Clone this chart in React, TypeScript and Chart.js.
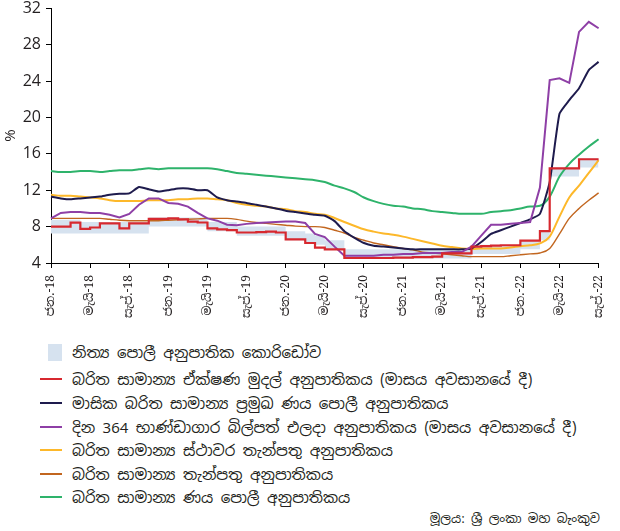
import React, { useEffect, useRef } from 'react';
import { Chart, registerables } from 'chart.js';

Chart.register(...registerables);

const months = [
  '2018-01', '2018-02', '2018-03', '2018-04', '2018-05', '2018-06', '2018-07', '2018-08', '2018-09', '2018-10', '2018-11', '2018-12',
  '2019-01', '2019-02', '2019-03', '2019-04', '2019-05', '2019-06', '2019-07', '2019-08', '2019-09', '2019-10', '2019-11', '2019-12',
  '2020-01', '2020-02', '2020-03', '2020-04', '2020-05', '2020-06', '2020-07', '2020-08', '2020-09', '2020-10', '2020-11', '2020-12',
  '2021-01', '2021-02', '2021-03', '2021-04', '2021-05', '2021-06', '2021-07', '2021-08', '2021-09', '2021-10', '2021-11', '2021-12',
  '2022-01', '2022-02', '2022-03', '2022-04', '2022-05', '2022-06', '2022-07', '2022-08', '2022-09',
];

const tickLabels = [
  'ජන.-18', 'මැයි-18', 'සැප්.-18',
  'ජන.-19', 'මැයි-19', 'සැප්.-19',
  'ජන.-20', 'මැයි-20', 'සැප්.-20',
  'ජන.-21', 'මැයි-21', 'සැප්.-21',
  'ජන.-22', 'මැයි-22', 'සැප්.-22',
];

// Standing rate corridor (lower / upper bound)
const corridorLow = [
  7.25, 7.25, 7.25, 7.25, 7.25, 7.25, 7.25, 7.25, 7.25, 7.25, 8.0, 8.0,
  8.0, 8.0, 8.0, 8.0, 7.5, 7.5, 7.5, 7.0, 7.0, 7.0, 7.0, 7.0,
  6.5, 6.5, 6.25, 6.0, 5.5, 5.5, 4.5, 4.5, 4.5, 4.5, 4.5, 4.5,
  4.5, 4.5, 4.5, 4.5, 4.5, 4.5, 4.5, 5.0, 5.0, 5.0, 5.0, 5.0,
  5.5, 5.5, 6.5, 13.5, 13.5, 13.5, 14.5, 14.5, 14.5,
];
const corridorHigh = [
  8.75, 8.75, 8.75, 8.5, 8.5, 8.5, 8.5, 8.5, 8.5, 8.5, 9.0, 9.0,
  9.0, 9.0, 9.0, 9.0, 8.5, 8.5, 8.5, 8.0, 8.0, 8.0, 8.0, 8.0,
  7.5, 7.5, 7.25, 7.0, 6.5, 6.5, 5.5, 5.5, 5.5, 5.5, 5.5, 5.5,
  5.5, 5.5, 5.5, 5.5, 5.5, 5.5, 5.5, 6.0, 6.0, 6.0, 6.0, 6.0,
  6.5, 6.5, 7.5, 14.5, 14.5, 14.5, 15.5, 15.5, 15.5,
];

const callMoneyRate = [
  8.0, 8.0, 8.43, 7.75, 7.9, 8.36, 8.36, 7.8, 8.36, 8.36, 8.85, 8.85,
  8.9, 8.8, 8.55, 8.45, 7.8, 7.7, 7.62, 7.35, 7.35, 7.4, 7.45, 7.35,
  6.6, 6.6, 6.2, 5.7, 5.5, 5.5, 4.55, 4.55, 4.55, 4.55, 4.55, 4.6,
  4.6, 4.65, 4.65, 4.7, 5.05, 5.05, 5.05, 5.8, 5.85, 5.9, 5.95, 5.95,
  6.45, 6.45, 7.5, 14.4, 14.4, 14.4, 15.4, 15.4, 15.4,
];
const primeLendingRate = [
  11.3, 11.1, 11.0, 11.1, 11.2, 11.3, 11.5, 11.6, 11.65, 12.35, 12.1, 11.85,
  12.0, 12.2, 12.2, 12.0, 12.0, 11.2, 10.9, 10.75, 10.6, 10.4, 10.2, 10.0,
  9.75, 9.6, 9.45, 9.3, 9.2, 8.6, 7.5, 6.8, 6.2, 5.9, 5.8, 5.7,
  5.6, 5.5, 5.5, 5.5, 5.5, 5.5, 5.5, 5.6, 6.3, 7.2, 7.6, 8.0,
  8.4, 8.8, 9.4, 12.9, 20.4, 21.9, 23.2, 25.2, 26.1,
];
const tBillYield = [
  8.9, 9.5, 9.6, 9.6, 9.5, 9.5, 9.3, 9.0, 9.4, 10.4, 11.1, 11.1,
  10.6, 10.5, 10.2, 9.5, 8.9, 8.65, 8.2, 8.15, 8.3, 8.4, 8.45, 8.5,
  8.55, 8.55, 8.4, 7.2, 6.85, 5.8, 4.8, 4.8, 4.8, 4.8, 4.9, 4.9,
  5.0, 5.0, 5.1, 5.1, 5.1, 5.2, 5.2, 5.8, 7.0, 8.2, 8.2, 8.3,
  8.4, 8.5, 12.3, 24.1, 24.3, 23.8, 29.4, 30.5, 29.8,
];
const fixedDepositRate = [
  11.5, 11.4, 11.4, 11.3, 11.2, 11.1, 10.9, 10.8, 10.8, 10.8, 10.9, 10.9,
  10.9, 11.0, 11.0, 11.1, 11.1, 11.0, 10.9, 10.6, 10.4, 10.3, 10.2, 10.0,
  9.9, 9.7, 9.6, 9.4, 9.3, 8.95, 8.5, 8.1, 7.7, 7.45, 7.25, 7.1,
  6.9, 6.65, 6.4, 6.15, 5.9, 5.75, 5.6, 5.55, 5.6, 5.6, 5.6, 5.7,
  5.85, 5.95, 6.15, 6.9, 9.1, 11.2, 12.5, 13.9, 15.3,
];
const depositRate = [
  8.9, 8.9, 8.9, 8.9, 8.9, 8.9, 8.8, 8.7, 8.65, 8.65, 8.65, 8.65,
  8.7, 8.75, 8.8, 8.85, 8.9, 8.9, 8.9, 8.8, 8.6, 8.45, 8.35, 8.25,
  8.15, 8.05, 8.0, 8.0, 7.9, 7.6, 7.3, 6.8, 6.5, 6.2, 6.0, 5.8,
  5.6, 5.45, 5.2, 5.1, 5.0, 4.9, 4.8, 4.7, 4.7, 4.7, 4.7, 4.8,
  4.9, 5.0, 5.1, 5.6, 7.2, 8.9, 10.0, 10.9, 11.7,
];
const lendingRate = [
  14.1, 14.0, 14.0, 14.1, 14.1, 14.0, 14.1, 14.2, 14.2, 14.3, 14.4, 14.3,
  14.4, 14.4, 14.4, 14.4, 14.4, 14.3, 14.1, 13.9, 13.8, 13.7, 13.6, 13.5,
  13.4, 13.3, 13.2, 13.1, 12.9, 12.5, 12.2, 11.8, 11.2, 10.8, 10.5, 10.3,
  10.2, 10.0, 9.9, 9.7, 9.6, 9.5, 9.4, 9.4, 9.4, 9.6, 9.7, 9.8,
  10.0, 10.2, 10.3, 11.3, 13.5, 14.9, 15.9, 16.8, 17.6,
];

const yTickValues = [4, 8, 12, 16, 20, 24, 28, 32];

const ZWJ = '\u200D';
const legendTexts = [
  `නිත්${ZWJ}ය පොලී අනුපාතික කොරිඩෝව`,
  `බරිත සාමාන්${ZWJ}ය ඒක්ෂණ මුදල් අනුපාතිකය (මාසය අවසානයේ දී)`,
  `මාසික බරිත සාමාන්${ZWJ}ය ප්${ZWJ}රමුඛ ණය පොලී අනුපාතිකය`,
  `දින 364 භාණ්ඩාගාර බිල්පත් එලදා අනුපාතිකය (මාසය අවසානයේ දී)`,
  `බරිත සාමාන්${ZWJ}ය ස්ථාවර තැන්පතු අනුපාතිකය`,
  `බරිත සාමාන්${ZWJ}ය තැන්පතු අනුපාතිකය`,
  `බරිත සාමාන්${ZWJ}ය ණය පොලී අනුපාතිකය`,
];
const sourceText = `මූලය: ශ්${ZWJ}රී ලංකා මහ බැංකුව`;

const CORRIDOR = '#d6e2ef';
const RED = '#d7282f';
const NAVY = '#1e1b4d';
const PURPLE = '#8e3fa6';
const YELLOW = '#fdb82a';
const BROWN = '#c2661f';
const GREEN = '#2eb36b';
const lineColors = [RED, NAVY, PURPLE, YELLOW, BROWN, GREEN];

const TEXT = '#231f20';
const SINHALA_SANS = "'Noto Sans Sinhala', 'Iskoola Pota', 'Noto Sans', 'DejaVu Sans', sans-serif";
const SINHALA_SERIF = "'Noto Serif Sinhala', 'Noto Sans Sinhala', 'Liberation Serif', serif";

export default function App() {
  const canvasRef = useRef<HTMLCanvasElement | null>(null);

  useEffect(() => {
    const canvas = canvasRef.current;
    if (!canvas) return;
    const line = (data: number[], color: string, width: number, order: number, extra: any = {}) => ({
      data,
      borderColor: color,
      backgroundColor: color,
      borderWidth: width,
      pointRadius: 0,
      fill: false,
      order,
      ...extra,
    });
    const chart = new Chart(canvas, {
      type: 'line',
      data: {
        labels: months,
        datasets: [
          {
            data: corridorLow,
            borderWidth: 0,
            borderColor: 'rgba(0,0,0,0)',
            pointRadius: 0,
            stepped: 'before',
            fill: false,
            order: 20,
          },
          {
            data: corridorHigh,
            borderWidth: 0,
            borderColor: 'rgba(0,0,0,0)',
            backgroundColor: CORRIDOR,
            pointRadius: 0,
            stepped: 'before',
            fill: 0,
            order: 21,
          },
          line(callMoneyRate, RED, 2.2, 1, { stepped: 'before' }),
          line(primeLendingRate, NAVY, 2, 3, { tension: 0.15 }),
          line(tBillYield, PURPLE, 2, 2),
          line(fixedDepositRate, YELLOW, 2, 4, { cubicInterpolationMode: 'monotone' }),
          line(depositRate, BROWN, 1.4, 5, { cubicInterpolationMode: 'monotone' }),
          line(lendingRate, GREEN, 2, 6, { cubicInterpolationMode: 'monotone' }),
        ] as any,
      },
      options: {
        responsive: false,
        animation: false,
        devicePixelRatio: 1,
        layout: { padding: { left: 0, right: 18, top: 0, bottom: 0 } },
        plugins: {
          legend: { display: false },
          tooltip: { enabled: false },
          filler: { drawTime: 'beforeDatasetsDraw' } as any,
        },
        scales: {
          x: {
            type: 'category',
            offset: false,
            border: { display: true, color: '#000', width: 1 },
            grid: {
              display: true,
              drawOnChartArea: false,
              drawTicks: true,
              tickLength: 5,
              color: (ctx: any) => (ctx.index % 4 === 0 ? '#000' : 'rgba(0,0,0,0)'),
            },
            ticks: {
              autoSkip: false,
              maxRotation: 90,
              minRotation: 90,
              padding: 7,
              color: TEXT,
              font: { family: SINHALA_SERIF, size: 12 },
              callback: (_v: any, i: number) => (i % 4 === 0 ? tickLabels[i / 4] : ''),
            },
            afterFit: (s: any) => {
              s.height = 72;
            },
          },
          y: {
            type: 'linear',
            min: yTickValues[0],
            max: yTickValues[yTickValues.length - 1],
            border: { display: true, color: '#000', width: 1 },
            grid: { display: true, drawOnChartArea: false, drawTicks: true, tickLength: 5, color: '#000' },
            ticks: {
              stepSize: 4,
              padding: 5,
              color: TEXT,
              font: { family: "'Open Sans', sans-serif", size: 16, lineHeight: 0.4 },
            },
            title: {
              display: true,
              text: '%',
              color: TEXT,
              font: { family: "'Open Sans', sans-serif", size: 15 },
              padding: { top: 2, bottom: 0 },
            },
            afterFit: (s: any) => {
              s.width = 51;
            },
          },
        },
      },
    });
    return () => chart.destroy();
  }, []);

  const rowCenters = [352, 379, 403, 427, 450, 474, 497];

  return (
    <div style={{ position: 'absolute', left: 0, top: 0, width: 620, height: 531, background: '#fff', overflow: 'hidden' }}>
      <canvas ref={canvasRef} width={620} height={335} style={{ position: 'absolute', left: 0, top: 0 }} />
      {legendTexts.map((t, i) => (
        <div
          key={i}
          style={{
            position: 'absolute',
            left: 40,
            top: rowCenters[i] - 11,
            height: 22,
            display: 'flex',
            alignItems: 'center',
            whiteSpace: 'nowrap',
            fontFamily: SINHALA_SANS,
            fontSize: 15,
            color: TEXT,
          }}
        >
          {i === 0 ? (
            <span style={{ display: 'inline-block', width: 14, height: 17, marginLeft: 8, marginRight: 10, background: CORRIDOR }} />
          ) : (
            <span style={{ display: 'inline-block', width: 22, height: 2.5, marginRight: 10, background: lineColors[i - 1] }} />
          )}
          <span>{t}</span>
        </div>
      ))}
      <div
        style={{
          position: 'absolute',
          right: 20,
          top: 507,
          height: 22,
          display: 'flex',
          alignItems: 'center',
          whiteSpace: 'nowrap',
          fontFamily: SINHALA_SANS,
          fontSize: 12.5,
          color: TEXT,
        }}
      >
        {sourceText}
      </div>
    </div>
  );
}
